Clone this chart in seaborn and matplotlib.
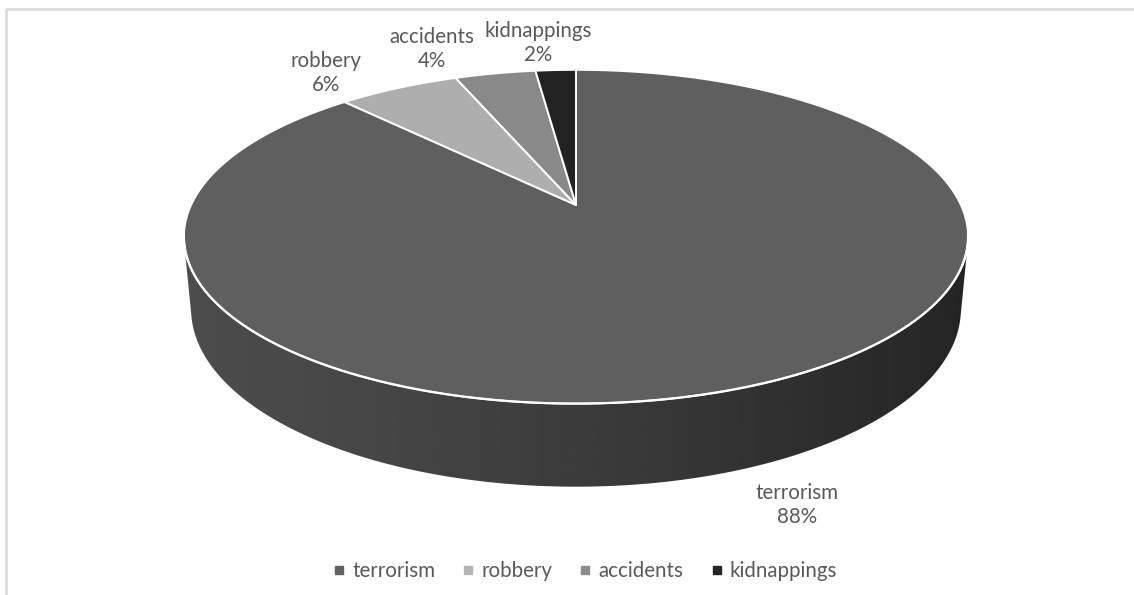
import numpy as np
import matplotlib
matplotlib.use("Agg")
import matplotlib.pyplot as plt
from matplotlib.patches import Polygon, Rectangle
from matplotlib.lines import Line2D
import seaborn as sns

# Incident categories and their shares (percent)
categories = ["terrorism", "robbery", "accidents", "kidnappings"]
shares = [88, 6, 4, 2]
top_colors = ["#5f5f5f", "#aeaeae", "#898989", "#222222"]
legend_colors = ["#636363", "#b4b4b4", "#8c8c8c", "#262626"]

sns.set_theme(style="white")
plt.rcParams["font.family"] = ["Lato", "DejaVu Sans"]

W, H = 1134, 595
fig = plt.figure(figsize=(W / 100, H / 100), dpi=100)
ax = fig.add_axes([0, 0, 1, 1])
ax.set_xlim(0, W)
ax.set_ylim(H, 0)
ax.axis("off")

# chart-area frame
ax.add_patch(Rectangle((6, 9), W + 20, H + 20, fill=False,
                       edgecolor="#d9d9d9", lw=2, zorder=0))

# perspective camera for the tilted 3-D pie
elev = np.deg2rad(24.7)
s_e, c_e = np.sin(elev), np.cos(elev)
D = 4.78          # camera distance (pie radius = 1)
K = 1840.0        # projection scale
CX, CY = 576.0, 205.0
DEPTH = 0.207     # thickness of the pie


def project(x, y, z):
    x, y, z = np.broadcast_arrays(np.asarray(x, float), np.asarray(y, float),
                                  np.asarray(z, float))
    d = y * c_e - z * s_e + D
    sx = x / d
    sy = (y * s_e + z * c_e) / d
    return CX + K * sx, CY - K * sy


def rim(t0, t1, z, n=200):
    th = np.linspace(t0, t1, n)
    return project(np.sin(th), np.cos(th), z)


# slice boundaries: clockwise from 12 o'clock
frac = np.array(shares, float) / np.sum(shares)
bounds = np.concatenate([[0], np.cumsum(frac)]) * 2 * np.pi

# side wall between the two silhouette generators of the cylinder
t_sil = np.arccos(-1.0 / (D * c_e))
xt, yt = rim(t_sil, 2 * np.pi - t_sil, 0, n=400)
xb, yb = rim(2 * np.pi - t_sil, t_sil, -DEPTH, n=400)
wall = Polygon(np.column_stack([np.r_[xt, xb], np.r_[yt, yb]]), closed=True,
               facecolor="none", edgecolor="none")
ax.add_patch(wall)
x0, x1 = xt.min() - 2, xt.max() + 2
ramp = np.linspace(0, 1, 400)
shade = 0.30 - 0.155 * ramp ** 1.25
img = ax.imshow(shade[None, :], cmap="gray", vmin=0, vmax=1, aspect="auto",
                extent=(x0, x1, yb.max() + 2, yt.min() - 2),
                interpolation="bilinear", zorder=2)
img.set_clip_path(wall)
ax.set_xlim(0, W)
ax.set_ylim(H, 0)

# top faces of the slices
cx0, cy0 = project(0, 0, 0)
for i, (t0, t1) in enumerate(zip(bounds[:-1], bounds[1:])):
    xs, ys = rim(t0, t1, 0, n=max(int((t1 - t0) * 120), 8))
    poly = np.column_stack([np.r_[cx0, xs], np.r_[cy0, ys]])
    ax.add_patch(Polygon(poly, closed=True, facecolor=top_colors[i],
                         edgecolor="white", lw=1.4, joinstyle="round",
                         zorder=3))

# white highlight along the front rim
xs, ys = rim(t_sil - 0.05, 2 * np.pi - t_sil + 0.05, 0)
ax.plot(xs, ys, color="white", lw=1.6, zorder=4, solid_capstyle="round")

# data labels
label_pos = {
    "terrorism": (797, 505),
    "robbery": (326, 73),
    "accidents": (432, 49),
    "kidnappings": (538, 43),
}
for name, val in zip(categories, shares):
    x, y = label_pos[name]
    ax.text(x, y, f"{name}\n{val}%", ha="center", va="center",
            fontsize=14.8, color="#595959", linespacing=1.25, zorder=5)

# legend
handles = [Line2D([], [], marker="s", linestyle="none", markersize=5.5,
                  markerfacecolor=c, markeredgecolor=c) for c in legend_colors]
fig.legend(handles, categories, loc="center", ncol=4,
           bbox_to_anchor=(584 / W, 1 - 571 / H), frameon=False,
           fontsize=14.8, labelcolor="#595959", handletextpad=0.25,
           columnspacing=1.2, handlelength=0.8)

fig.savefig("out.png", dpi=100, facecolor="white")
